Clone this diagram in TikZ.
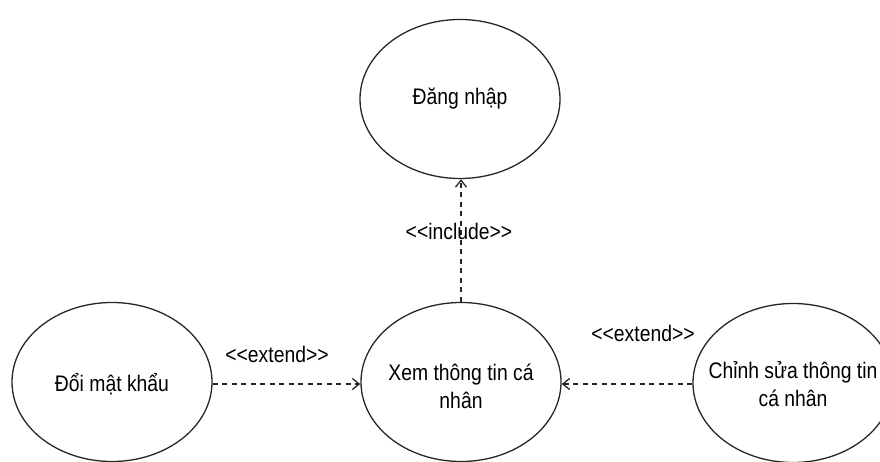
\documentclass[tikz,border=0pt]{standalone}
\usepackage{fontspec}
\setmainfont{Liberation Sans}[FakeStretch=0.86]
\usetikzlibrary{shapes.geometric,arrows.meta}

\begin{document}
\begin{tikzpicture}[x=1pt,y=-1pt,
  usecase/.style={draw=black!85, line width=1.3pt, ellipse, inner sep=0pt,
    minimum width=200pt, minimum height=159pt},
  uctext/.style={align=center, inner sep=0pt, font=\fontsize{22.5}{28}\selectfont},
  dep/.style={draw=black!85, line width=1.2pt, dash pattern=on 5pt off 4.5pt,
    -{Straight Barb[length=7pt,width=11pt,line width=1.3pt]}},
  deplabel/.style={font=\fontsize{22.5}{26}\selectfont, inner sep=0pt}]
  \useasboundingbox (0,0) rectangle (880,462);
  \clip (0,0) rectangle (880,462);

  % use cases
  \node[usecase] (login) at (460,99) {};
  \node[usecase] (view) at (461,382) {};
  \node[usecase] (pw) at (112,382) {};
  \node[usecase] (edit) at (793,383) {};

  % use case names
  \node[uctext] (logintext) at (login.center) {Đăng nhập};
  \node[uctext] (viewtext) at ([yshift=-4pt]view.center) {Xem thông tin cá\\nhân};
  \node[uctext] (pwtext) at ([yshift=-2pt]pw.center) {Đổi mật khẩu};
  \node[uctext] (edittext) at ([yshift=-1pt]edit.center) {Chỉnh sửa thông tin\\cá nhân};

  % relationships
  \draw[dep] (view.north) -- (view.north |- login.south);
  \draw[dep] (pw.east |- 0,384) -- (view.west |- 0,384);
  \draw[dep] (edit.west |- 0,384) -- (view.east |- 0,384);

  % stereotype labels
  \node[deplabel] (inc) at (459,231) {<{}<include>{}>};
  \node[deplabel] (ext1) at (277,354) {<{}<extend>{}>};
  \node[deplabel] (ext2) at (643,333) {<{}<extend>{}>};
\end{tikzpicture}
\end{document}
